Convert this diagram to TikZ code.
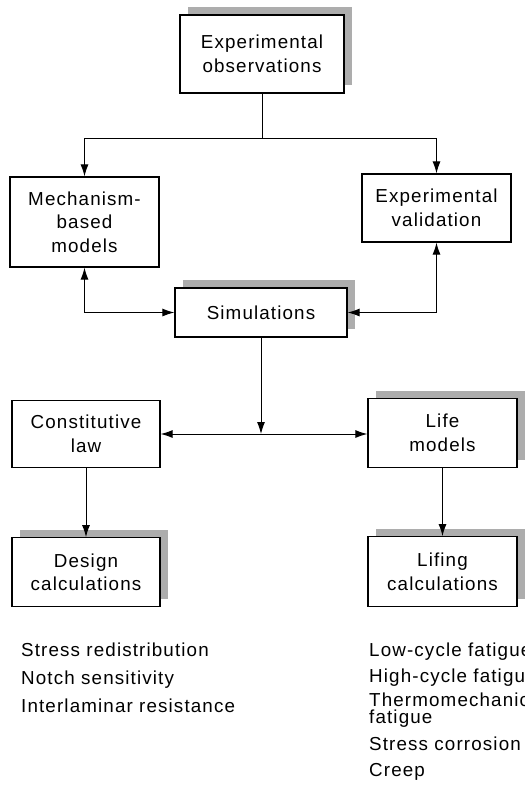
\documentclass[tikz,border=0pt]{standalone}
\usepackage{fontspec}
\setmainfont{Liberation Sans}[LetterSpace=6]
\usetikzlibrary{arrows.meta,positioning,shadows}

\begin{document}
\begin{tikzpicture}[x=1pt,y=-1pt,
  every node/.style={font=\fontsize{18.8}{23.5}\selectfont},
  blok/.style={draw,line width=1.2pt,inner sep=0pt,align=center,minimum width=149pt,fill=white},
  shade/.style={blok,drop shadow={shadow xshift=8pt,shadow yshift=8pt,fill=black!32,opacity=1}},
  item/.style={anchor=base west,inner sep=0pt},
  ar/.style={-{Latex[length=12pt,width=8pt]},line width=1pt},
  dar/.style={{Latex[length=12pt,width=8pt]}-{Latex[length=12pt,width=8pt]},line width=1pt}]

\useasboundingbox (0,0) rectangle (525,796);
\clip (0,0) rectangle (525,796);

\node[shade,minimum width=164pt,minimum height=78pt] (obs) at (262,54) {Experimental\\observations};
\node[blok,minimum height=90pt] (mech) at (84.5,222) {Mechanism-\\based\\models};
\node[blok,minimum height=68pt] (valid) at (436.5,208) {Experimental\\validation};
\node[shade,minimum width=172pt,minimum height=49pt] (sim) at (261,312.5) {Simulations};
\node[blok,minimum width=148pt,minimum height=67pt] (law) at (86,434) {Constitutive\\law};
\node[shade,minimum height=69pt] (life) at (442.5,433) {Life\\models};
\node[shade,minimum width=148pt,minimum height=69pt,below=69pt of law] (design) {Design\\calculations};
\node[shade,minimum height=70pt,below=68pt of life] (lifing) {Lifing\\calculations};

% connectors
\draw[line width=1pt] (obs.south) -- ++(0,45) coordinate (fork);
\draw[ar] (fork) -| (mech);
\draw[ar] (fork) -| (valid);
\draw[dar] (mech) |- (sim);
\draw[dar] (valid) |- (sim);
\draw[ar] (sim) -- (sim |- law);
\draw[dar] (law) -- (law -| life.west);
\draw[ar] (law) -- (design);
\draw[ar] (life) -- (lifing);

% lists under the calculations
\foreach \y/\t [count=\i] in {656/Stress redistribution,684/Notch sensitivity,712/Interlaminar resistance}
  \node[item] (l\i) at (21,\y) {\t};
\foreach \y/\t [count=\i] in {656/Low-cycle fatigue,682/High-cycle fatigue,706/Thermomechanical,723/fatigue,750/Stress corrosion,776/Creep}
  \node[item] (r\i) at (369,\y) {\t};
\end{tikzpicture}
\end{document}
